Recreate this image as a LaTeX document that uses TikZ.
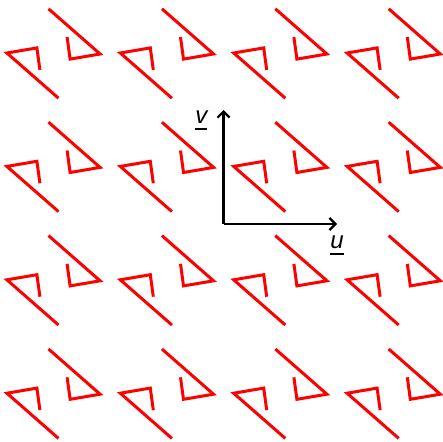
\documentclass[tikz,border=0pt]{standalone}
\usepackage{fontspec}
\setmainfont{Liberation Sans}
\usetikzlibrary{arrows.meta}
\newcommand{\ulbl}[1]{\setbox0\hbox{#1}\vtop{\copy0\kern5pt\hrule width\wd0 height 1.3pt}}
\tikzset{
  motif/.style={draw=red, line width=3pt, miter limit=10},
  axis/.style={draw=black, line width=2.4pt, -{Straight Barb[length=6pt,width=12pt,line width=2.2pt]}},
  lbl/.style={font=\fontsize{24}{28}\selectfont\itshape, inner sep=0pt, anchor=base}
}
\begin{document}
\begin{tikzpicture}[x=1pt,y=-1pt]
\useasboundingbox (0,0) rectangle (443,441);
\foreach \i in {0,1,2,3}{
  \foreach \j in {0,1,2,3}{
    \begin{scope}[shift={(53.5+113.4*\i,53.5+113.4*\j)}]
      \draw[motif] (5,44.7) -- (-46.6,-0.5) -- (-16.6,-5.6) -- (-13.6,16.4);
      \draw[motif] (-5,-44.7) -- (46.6,0.5) -- (16.6,5.6) -- (13.6,-16.4);
    \end{scope}
  }
}
\coordinate (O) at (223.5,224);
\coordinate (V) at (223.5,110);
\coordinate (U) at (337,224);
\draw[axis] (O) -- (V);
\draw[axis] (O) -- (U);
\node[lbl] (vl) at (201.3,123.3) {\ulbl{v}};
\node[lbl] (ul) at (337,248) {\ulbl{u}};
\end{tikzpicture}
\end{document}
